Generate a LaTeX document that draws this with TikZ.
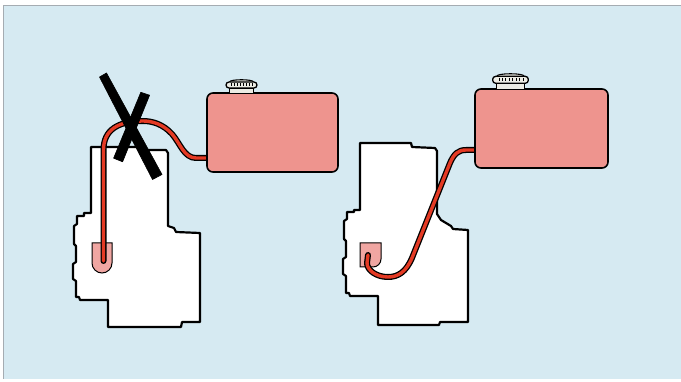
\documentclass[tikz,border=0pt]{standalone}
\usetikzlibrary{calc}
\definecolor{skyback}{RGB}{214,234,242}
\definecolor{frameline}{RGB}{165,172,178}
\definecolor{tankpink}{RGB}{238,148,142}
\definecolor{cuppink}{RGB}{240,166,162}
\definecolor{fuelred}{RGB}{228,58,36}
\definecolor{capgrey}{RGB}{236,236,228}
\tikzset{
  enginebody/.style={draw=black, line width=2.2pt, fill=white, line join=round},
  tankbody/.style={draw=black, line width=1.6pt, fill=tankpink, rounded corners=6pt},
  cupbody/.style={draw=black, line width=1pt, fill=cuppink},
  pipeouter/.style={draw=black, line width=6pt, line cap=round, line join=round},
  pipeinner/.style={draw=fuelred, line width=3.4pt, line cap=round, line join=round},
  crossbar/.style={fill=black, draw=black, line width=0.6pt, line join=round},
  fuelcap/.pic={
    % knurled band with a small dome on top and a short neck below
    \draw[fill=capgrey, line width=1.1pt] (-12,0) -- (-12,-5) -- (12,-5) -- (12,0);
    \draw[fill=capgrey, line width=1.1pt] (-12,-11) .. controls (-12,-14) and (12,-14) .. (12,-11);
    \draw[fill=capgrey, line width=1.3pt, rounded corners=3pt] (-15.5,-11) rectangle (15.5,-5);
    \foreach \k in {-10,-7,...,11} \draw[line width=0.9pt] (\k,-9.6) -- (\k,-6.6);
  }
}
\begin{document}
\begin{tikzpicture}[x=1pt, y=-1pt]
\useasboundingbox (0,0) rectangle (681,382);
% page and panel
\fill[white] (0,0) rectangle (681,382);
\fill[skyback] (3,6) rectangle (681,379);
\draw[frameline, line width=1pt] (3,379) -- (3,6) -- (681,6);

% ---------- left arrangement: tank line looping over the engine ----------
\draw[enginebody] (91,147) -- (144,147) -- (145,150) -- (166,150) -- (168,153)
  -- (168,226) -- (174,228) -- (176,232) -- (200,233) -- (200,322) -- (182,322)
  -- (181,327) -- (108,327) -- (108,300) -- (80,300) -- (79,297) -- (76,297)
  -- (76,281) -- (73,279) -- (73,264) -- (76,262) -- (76,246) -- (74,244)
  -- (74,226) -- (77,224) -- (77,216) -- (84,216) -- (84,213) -- (91,213) -- cycle;
\draw[cupbody] (92,243) -- (92,263) arc[start angle=180, end angle=0, radius=10]
  -- (112,243) -- cycle;

\coordinate (lefttankout) at (209,158);
\coordinate (leftpipeend) at (103.5,261);
\foreach \s in {pipeouter, pipeinner}
  \draw[\s] (lefttankout) -- (196,158) .. controls (184,158) and (180,143) .. (172,134)
    .. controls (163,124) and (152,121) .. (143,121)
    .. controls (118,121) and (103.5,130) .. (103.5,150) -- (leftpipeend);

\draw[tankbody] (207,93) rectangle (338,172);
\pic at (241.5,93) {fuelcap};

% cross-out strokes
\fill[crossbar] (99.5,77) -- (106.5,73) -- (162,174.5) -- (152.5,179.5) -- cycle;
\fill[crossbar] (140.8,92.3) -- (149.6,95.2) -- (122.6,161.8) -- (113.6,158.2) -- cycle;

% ---------- right arrangement: line runs down into the engine ----------
\draw[enginebody] (360,143) -- (411,143) -- (412,147) -- (435,148) -- (437,151)
  -- (437,214) -- (441,220) -- (451,226) -- (453,229) -- (468,230) -- (468,322)
  -- (440,322) -- (439,325) -- (378,325) -- (378,296) -- (350,296) -- (349,293)
  -- (346,293) -- (346,276) -- (343,274) -- (343,259) -- (346,257) -- (346,241)
  -- (344,239) -- (344,221) -- (347,219) -- (347,212) -- (354,212) -- (354,210)
  -- (360,210) -- cycle;
\draw[cupbody] (360,243) -- (360,267) -- (373,267) arc[start angle=90, end angle=0, radius=8]
  -- (381,243) -- cycle;

\coordinate (righttankout) at (477,150);
\coordinate (rightpipeend) at (368,255);
\foreach \s in {pipeouter, pipeinner}
  \draw[\s] (righttankout) -- (466,150) .. controls (458,150) and (454,154) .. (450,163)
    -- (412,258) .. controls (406,272) and (398,277) .. (388,277)
    .. controls (376,277) and (367,270) .. (367,263) -- (rightpipeend);

\draw[tankbody] (475,89) rectangle (608,168);
\pic[scale=1.15] at (510.5,89) {fuelcap};
\end{tikzpicture}
\end{document}
